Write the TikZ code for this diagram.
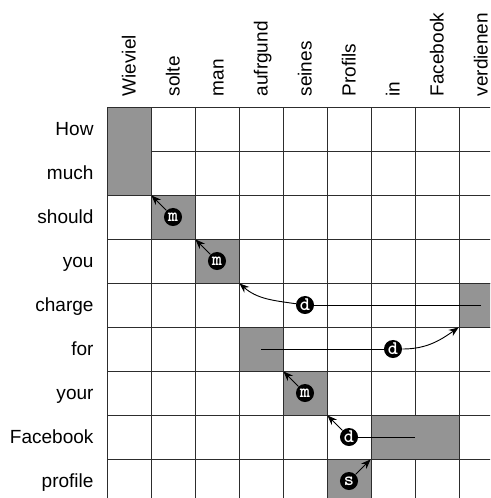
\documentclass[tikz,border=0pt]{standalone}
\usepackage{fontspec}
\setmainfont{Liberation Sans}
\usetikzlibrary{arrows.meta}
\definecolor{cellgray}{RGB}{148,148,148}
\definecolor{gridline}{RGB}{45,45,45}
\tikzset{word/.style = {inner sep = 0, font = \fontsize{12.3}{14}\selectfont}}
\tikzset{gcell/.style = {draw = gridline, fill = cellgray, inner sep = 0, minimum width = 1cm, minimum height = 1cm, line width = 0.6pt}}
\tikzset{lbl/.style = {circle, fill = black, text = white, inner sep = 0, minimum size = 0.41cm, font = \ttfamily\bfseries\fontsize{12.5}{13}\selectfont}}
\tikzset{arc/.style = {-{Stealth[length = 2.2mm, width = 1.7mm]}, line width = 0.6pt}}

\begin{document}
\begin{tikzpicture}
      \clip (-2.432, 2.432) rectangle (8.705, -8.886);
      \fill [white] (-2.432, 2.432) rectangle (8.705, -8.886);

      % words of both sentences
      \foreach \w [count = \i from 0] in {How,much,should,you,charge,for,your,Facebook,profile} {
        \node [word, anchor = base east] (en\i) at (-0.3, -\i - 0.65) {\w};
      }
      \foreach \w [count = \i from 0] in {Wieviel,solte,man,aufrgund,seines,Profils,in,Facebook,verdienen} {
        \node [word, rotate = 90, anchor = base west] (de\i) at (\i + 0.65, 0.234) {\w};
      }

      \draw [gridline, line width = 0.6pt] (0, -9) grid (9, 0);

      % aligned cells
      \node [gcell, minimum height = 2cm] (wieviel) at (0.5, -1) {};
      \node [gcell] (solte) at (1.5, -2.5) {};
      \node [gcell] (man) at (2.5, -3.5) {};
      \node [gcell] (verdienen) at (8.5, -4.5) {};
      \node [gcell] (aufrgund) at (3.5, -5.5) {};
      \node [gcell] (seines) at (4.5, -6.5) {};
      \node [gcell, minimum width = 2cm] (facebook) at (7, -7.5) {};
      \node [gcell] (profils) at (5.5, -8.5) {};

      \node [lbl] (m1) at (solte) {m};
      \draw [arc] (m1) -- (wieviel.south east);
      \node [lbl] (m2) at (man) {m};
      \draw [arc] (m2) -- (solte.south east);

      \node [lbl] (d1) at (4.5, -4.5) {d};
      \draw [line width = 0.6pt] (verdienen.center) -- (d1);
      \draw [arc] (d1) to [out = 172, in = -41] (man.south east);

      \node [lbl] (d2) at (6.5, -5.5) {d};
      \draw [line width = 0.6pt] (aufrgund.center) -- (d2);
      \draw [arc] (d2) to [out = 0, in = -145] (verdienen.south west);

      \node [lbl] (m3) at (seines) {m};
      \draw [arc] (m3) -- (aufrgund.south east);

      \node [lbl] (d3) at (5.5, -7.5) {d};
      \draw [line width = 0.6pt] (facebook.center) -- (d3);
      \draw [arc] (d3) -- (seines.south east);

      \node [lbl] (s1) at (profils) {s};
      \draw [arc] (s1) -- (facebook.south west);
    \end{tikzpicture}
\end{document}
